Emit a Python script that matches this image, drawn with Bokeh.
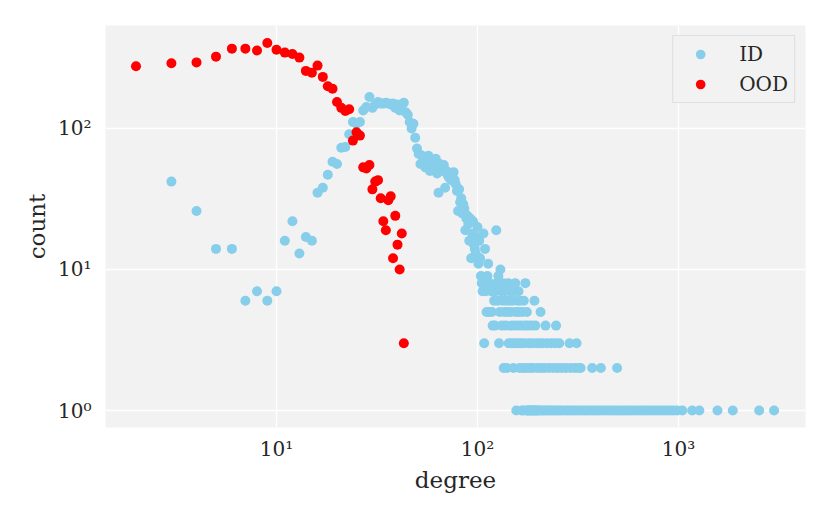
from bokeh.plotting import figure
from bokeh.models import Range1d, FixedTicker, CustomJSTickFormatter, ColumnDataSource
from bokeh.embed import file_html
from bokeh.resources import INLINE

# ---------------- data ----------------
# OOD degree distribution
ood_degree = [2, 3, 4, 5, 6, 7, 8, 9, 10, 11, 12, 13, 14, 15, 16, 17, 18, 19, 20, 21,
              22, 23, 24, 25, 26, 27, 28, 29, 30, 31, 32, 33, 34, 35, 36, 37, 38, 39,
              40, 41, 42, 43]
ood_count = [276, 290, 294, 323, 368, 368, 357, 403, 361, 345, 337, 318, 256, 248, 279,
             232, 199, 191, 154, 140, 133, 137, 82, 94, 89, 53, 52, 55, 37, 42, 43, 32,
             22, 19, 31, 33, 12, 24, 15, 10, 18, 3]

# ID degree distribution, low degrees (one point per degree)
id_low_degree = [3, 4, 5, 6, 7, 8, 9, 10, 11, 12, 13, 14, 15, 16, 17, 18, 19, 20, 21, 22,
                 23, 24, 25, 26, 27, 28, 29, 30, 31, 32, 33, 34, 35, 36, 37, 38, 39, 40,
                 41, 42, 43, 44, 45, 46, 47, 48, 49, 50, 51, 52, 53, 54, 55, 56, 57, 58,
                 59, 60, 61, 62, 63, 64, 65, 66, 67, 68, 69, 70, 71, 72, 73, 74, 75, 76,
                 77, 78, 79, 80, 81, 82, 83, 84, 85, 86, 87, 88, 89, 90, 91, 92, 93, 94,
                 95, 96, 97, 98, 99]
id_low_count = [42, 26, 14, 14, 6, 7, 6, 7, 16, 22, 13, 17, 16, 35, 38, 47, 58, 56, 73, 74,
                91, 111, 108, 111, 134, 142, 167, 140, 148, 154, 150, 150, 152, 150, 148,
                150, 140, 148, 134, 146, 152, 130, 125, 111, 100, 108, 86, 72, 66, 56, 64,
                62, 53, 60, 64, 50, 56, 52, 58, 61, 48, 35, 56, 50, 53, 55, 38, 50, 47, 45,
                48, 43, 46, 49, 43, 40, 36, 26, 37, 30, 32, 25, 29, 27, 19, 23, 24, 21, 16,
                23, 12, 18, 22, 15, 14, 13, 17]

# ID tail: degrees having each count
id_tail_20 = [100]
id_tail_19 = [124]
id_tail_18 = [107]
id_tail_16 = [102]
id_tail_14 = [109]
id_tail_12 = [103]
id_tail_11 = [101, 113]
id_tail_10 = [130]
id_tail_9 = [104, 112, 127]
id_tail_8 = [105, 115, 125, 134, 142, 154, 173]
id_tail_7 = [106, 110, 117, 120, 123, 131, 137, 145, 152, 160]
id_tail_6 = [121, 126, 133, 139, 144, 149, 158, 163, 170, 192]
id_tail_5 = [111, 114, 118, 129, 136, 141, 147, 155, 161, 167, 176, 206]
id_tail_4 = [119, 122, 132, 138, 146, 150, 157, 164, 172, 178, 185, 194, 218, 246]
id_tail_3 = [108, 128, 143, 148, 153, 159, 165, 171, 180, 187, 196, 203, 211, 222, 233,
             244, 255, 287, 311]
id_tail_2 = [135, 140, 151, 162, 168, 174, 182, 189, 199, 208, 215, 226, 238, 250, 262,
             275, 290, 305, 318, 326, 372, 411, 495]
id_tail_1 = [156, 166, 169, 175, 177, 179, 181, 184, 186, 188, 191, 193, 195, 198, 201,
             205, 210, 214, 219, 224, 229, 235, 241, 248, 254, 260, 268, 277, 284, 293,
             301, 310, 320, 331, 342, 353, 365, 378, 390, 404, 418, 432, 447, 462, 478,
             494, 511, 528, 546, 565, 584, 604, 625, 647, 669, 692, 716, 741, 767, 794,
             822, 851, 881, 912, 945, 985, 1045, 1170, 1270, 1563, 1863, 2520, 2990]

x_ticks = [10, 100, 1000]
y_ticks = [1, 10, 100]

id_tail = {20: id_tail_20, 19: id_tail_19, 18: id_tail_18, 16: id_tail_16, 14: id_tail_14,
           12: id_tail_12, 11: id_tail_11, 10: id_tail_10, 9: id_tail_9, 8: id_tail_8,
           7: id_tail_7, 6: id_tail_6, 5: id_tail_5, 4: id_tail_4, 3: id_tail_3,
           2: id_tail_2, 1: id_tail_1}

id_degree = list(id_low_degree)
id_count = list(id_low_count)
for c, degs in id_tail.items():
    id_degree += degs
    id_count += [c] * len(degs)

id_src = ColumnDataSource(data=dict(degree=id_degree, count=id_count))
ood_src = ColumnDataSource(data=dict(degree=ood_degree, count=ood_count))

# ---------------- figure ----------------
FONT = "DejaVu Serif"
TXT = "#262626"

p = figure(x_axis_type="log", y_axis_type="log",
           x_range=Range1d(1.41, 4285), y_range=Range1d(0.758, 537),
           frame_width=700, frame_height=402,
           min_border_left=105, min_border_right=18, min_border_top=25,
           min_border_bottom=80,
           output_backend="svg", toolbar_location=None,
           background_fill_color="#f2f2f2", border_fill_color="white")
p.outline_line_color = None

p.scatter(x="degree", y="count", source=id_src, size=10, fill_color="#87ceeb",
          line_color=None, legend_label="ID")
p.scatter(x="degree", y="count", source=ood_src, size=10, fill_color="#ff0000",
          line_color=None, legend_label="OOD")

fmt_code = """
const sup = {"0": "\\u2070", "1": "\\u00b9", "2": "\\u00b2", "3": "\\u00b3", "-": "\\u207b"};
const e = Math.round(Math.log10(tick));
return "10" + String(e).split("").map(c => sup[c]).join("");
"""

xt = FixedTicker(ticks=x_ticks)
yt = FixedTicker(ticks=y_ticks)
p.xaxis.ticker = xt
p.yaxis.ticker = yt
p.xgrid.ticker = xt
p.ygrid.ticker = yt
p.xaxis.formatter = CustomJSTickFormatter(code=fmt_code)
p.yaxis.formatter = CustomJSTickFormatter(code=fmt_code)

p.grid.grid_line_color = "white"
p.grid.grid_line_width = 1.4

p.xaxis.axis_label = "degree"
p.yaxis.axis_label = "count"
for ax in (p.xaxis, p.yaxis):
    ax.axis_line_color = None
    ax.major_tick_line_color = None
    ax.minor_tick_line_color = None
    ax.major_tick_out = 0
    ax.major_tick_in = 0
    ax.major_label_text_font = FONT
    ax.major_label_text_font_size = "20px"
    ax.major_label_text_color = TXT
    ax.axis_label_text_font = FONT
    ax.axis_label_text_font_size = "23px"
    ax.axis_label_text_font_style = "normal"
    ax.axis_label_text_color = TXT
p.xaxis.major_label_standoff = 9
p.yaxis.major_label_standoff = 14
p.xaxis.axis_label_standoff = 3
p.yaxis.axis_label_standoff = 5

lg = p.legend[0]
lg.location = "top_right"
lg.margin = 10
lg.padding = 6
lg.spacing = 6
lg.glyph_width = 42
lg.glyph_height = 24
lg.label_height = 24
lg.label_standoff = 18
lg.label_text_font = FONT
lg.label_text_font_size = "20px"
lg.label_text_color = TXT
lg.background_fill_color = "#f2f2f2"
lg.background_fill_alpha = 0.9
lg.border_line_color = "#cccccc"
lg.border_line_width = 1

open("out.html", "w", encoding="utf-8").write(file_html(p, INLINE))
